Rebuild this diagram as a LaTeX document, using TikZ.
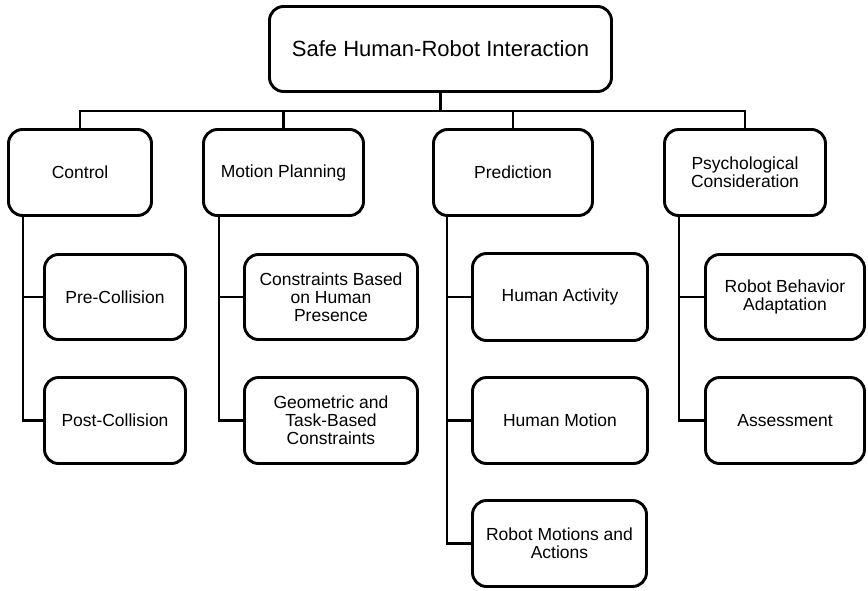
\documentclass[tikz,border=0pt]{standalone}
\usepackage{fontspec}
\setmainfont{Liberation Sans}
\begin{document}
\begin{tikzpicture}[x=1pt,y=-1pt,
  box/.style={draw, line width=2.9pt, rounded corners=14pt, align=center, inner sep=0pt, font=\fontsize{17.5}{18}\selectfont},
  conn/.style={line width=2.9pt}]
\useasboundingbox (0,0) rectangle (868,590);
\node[box, minimum width=342pt, minimum height=85pt, font=\fontsize{22}{24}\selectfont] (root) at (440.5,49) {Safe Human-Robot Interaction};
\node[box, minimum width=143pt, minimum height=86pt] (ctrl) at (80,172.5) {Control};
\node[box, minimum width=160pt, minimum height=86pt] (mp) at (283.5,172.5) {Motion Planning};
\node[box, minimum width=159pt, minimum height=86pt] (pred) at (513,172.5) {Prediction};
\node[box, minimum width=161pt, minimum height=86pt] (psych) at (745,172.5) {Psychological\\Consideration};
\node[box, minimum width=141pt, minimum height=85pt] (pre) at (115,297) {Pre-Collision};
\node[box, minimum width=141pt, minimum height=86pt] (post) at (115,420.5) {Post-Collision};
\node[box, minimum width=173pt, minimum height=85pt] (cons) at (331,297) {Constraints Based\\on Human\\Presence};
\node[box, minimum width=173pt, minimum height=86pt] (geo) at (331,420.5) {Geometric and\\Task-Based\\Constraints};
\node[box, minimum width=175pt, minimum height=87pt] (hact) at (560,297) {Human Activity};
\node[box, minimum width=175pt, minimum height=86pt] (hmot) at (560,420.5) {Human Motion};
\node[box, minimum width=174pt, minimum height=86pt] (rma) at (559.5,543.5) {Robot Motions and\\Actions};
\node[box, minimum width=159pt, minimum height=85pt] (rba) at (785,297) {Robot Behavior\\Adaptation};
\node[box, minimum width=159pt, minimum height=86pt] (asm) at (785,420.5) {Assessment};
\coordinate (bar) at (0,111);
\coordinate (cv) at (23,0);
\coordinate (mv) at (219,0);
\coordinate (pv) at (447,0);
\coordinate (sv) at (679,0);
\draw[conn] (root.south) -- (root.south |- bar);
\draw[conn] (ctrl.north) -- (ctrl.north |- bar) -- (psych.north |- bar) -- (psych.north);
\draw[conn] (mp.north) -- (mp.north |- bar);
\draw[conn] (pred.north) -- (pred.north |- bar);
\draw[conn] (ctrl.south -| cv) |- (post.west);
\draw[conn] (pre.west) -- (pre.west -| cv);
\draw[conn] (mp.south -| mv) |- (geo.west);
\draw[conn] (cons.west) -- (cons.west -| mv);
\draw[conn] (pred.south -| pv) |- (rma.west);
\draw[conn] (hact.west) -- (hact.west -| pv);
\draw[conn] (hmot.west) -- (hmot.west -| pv);
\draw[conn] (psych.south -| sv) |- (asm.west);
\draw[conn] (rba.west) -- (rba.west -| sv);
\end{tikzpicture}
\end{document}
